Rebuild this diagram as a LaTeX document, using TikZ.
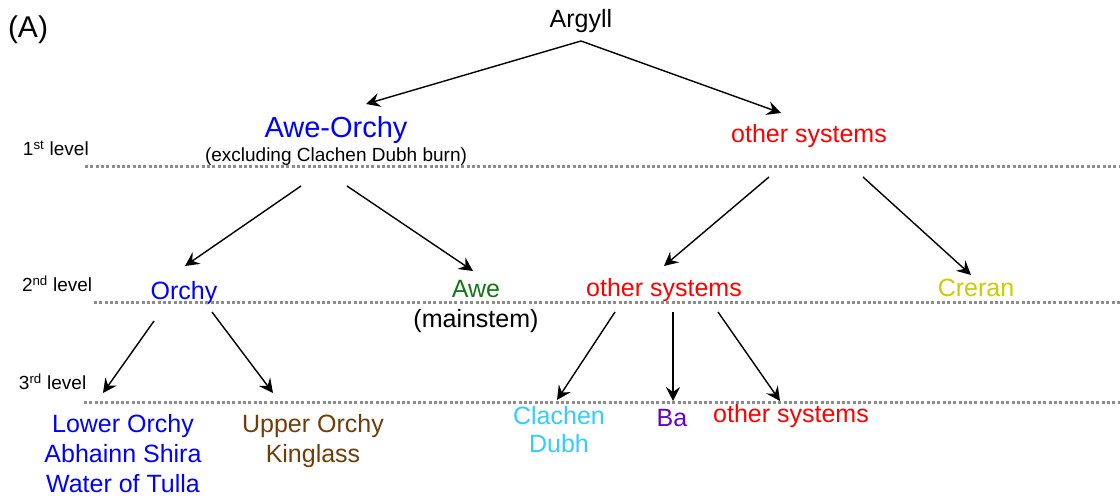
\documentclass[tikz,border=0pt]{standalone}
\usepackage{fontspec}
\setmainfont{Liberation Sans}
\usetikzlibrary{arrows.meta}
\definecolor{cblue}{RGB}{0,0,255}
\definecolor{cred}{RGB}{255,0,0}
\definecolor{cgreen}{RGB}{20,118,20}
\definecolor{cbrown}{RGB}{110,62,10}
\definecolor{clight}{RGB}{51,204,255}
\definecolor{cpurple}{RGB}{102,0,204}
\definecolor{cyellow}{RGB}{204,204,0}
\definecolor{cgrey}{RGB}{140,140,140}
\begin{document}
\begin{tikzpicture}[x=1pt,y=-1pt,
  lbl/.style={anchor=base,inner sep=0pt,outer sep=0pt,font=\fontsize{25}{30}\selectfont,align=center},
  small/.style={anchor=base,inner sep=0pt,outer sep=0pt,font=\fontsize{19}{23}\selectfont},
  lvl/.style={anchor=base west,inner sep=0pt,outer sep=0pt,font=\fontsize{19}{23}\selectfont},
  arr/.style={line width=1.4pt,-{Stealth[length=14pt,width=14pt,inset=5pt]}},
  dotline/.style={cgrey,line width=3pt,dash pattern=on 3pt off 2.3pt}]
\useasboundingbox (0,0) rectangle (1120,502);
% labels
\node[lbl,font=\fontsize{30}{34}\selectfont] (A) at (28,38) {(A)};
\node[lbl] (argyll) at (581,28) {Argyll};
\node[lbl,cblue,font=\fontsize{29}{34}\selectfont] (aweorchy) at (336,138) {Awe-Orchy};
\node[small] (excl) at (336,162) {(excluding Clachen Dubh burn)};
\node[lbl,cred] (oth1) at (809,143) {other systems};
\node[lvl] (l1) at (23,156) {1\textsuperscript{st} level};
\node[lvl] (l2) at (22,292) {2\textsuperscript{nd} level};
\node[lvl] (l3) at (19,390) {3\textsuperscript{rd} level};
\node[lbl,cblue] (orchy) at (184,300) {Orchy};
\node[lbl,cgreen] (awe) at (476,298) {Awe};
\node[lbl] (mainstem) at (476,328) {(mainstem)};
\node[lbl,cred] (oth2) at (664,297) {other systems};
\node[lbl,cyellow] (creran) at (976,297) {Creran};
\node[lbl,cblue,anchor=north] (lower) at (123,414) {Lower Orchy\\Abhainn Shira\\Water of Tulla};
\node[lbl,cbrown,anchor=north] (upper) at (313,414) {Upper Orchy\\Kinglass};
\node[lbl,clight,anchor=north,font=\fontsize{25}{28}\selectfont] (clachen) at (559,406) {Clachen\\Dubh};
\node[lbl,cpurple] (ba) at (672,427) {Ba};
\node[lbl,cred] (oth3) at (791,423) {other systems};
% dotted level lines
\coordinate (d1a) at (85,167); \coordinate (d1b) at (1120,167);
\coordinate (d2a) at (94,303); \coordinate (d2b) at (1120,303);
\coordinate (d3a) at (84,403); \coordinate (d3b) at (1120,403);
\draw[dotline] (d1a) -- (d1b);
\draw[dotline] (d2a) -- (d2b);
\draw[dotline] (d3a) -- (d3b);
% arrow end points
\coordinate (s0) at (581,41);
\coordinate (t0a) at (366,104);
\coordinate (t0b) at (781,113);
\coordinate (s1a) at (301,186); \coordinate (t1a) at (185,266);
\coordinate (s1b) at (347,186); \coordinate (t1b) at (473,271);
\coordinate (s1c) at (769,177); \coordinate (t1c) at (664,266);
\coordinate (s1d) at (863,177); \coordinate (t1d) at (971,275);
\coordinate (s2a) at (154,321); \coordinate (t2a) at (103,393);
\coordinate (s2b) at (212,312); \coordinate (t2b) at (273,393);
\coordinate (s2c) at (615,312); \coordinate (t2c) at (557,400);
\coordinate (s2d) at (673,312); \coordinate (t2d) at (673,401);
\coordinate (s2e) at (718,312); \coordinate (t2e) at (780,401);
\draw[arr] (s0) -- (t0a);
\draw[arr] (s0) -- (t0b);
\draw[arr] (s1a) -- (t1a);
\draw[arr] (s1b) -- (t1b);
\draw[arr] (s1c) -- (t1c);
\draw[arr] (s1d) -- (t1d);
\draw[arr] (s2a) -- (t2a);
\draw[arr] (s2b) -- (t2b);
\draw[arr] (s2c) -- (t2c);
\draw[arr] (s2d) -- (t2d);
\draw[arr] (s2e) -- (t2e);
\end{tikzpicture}
\end{document}
